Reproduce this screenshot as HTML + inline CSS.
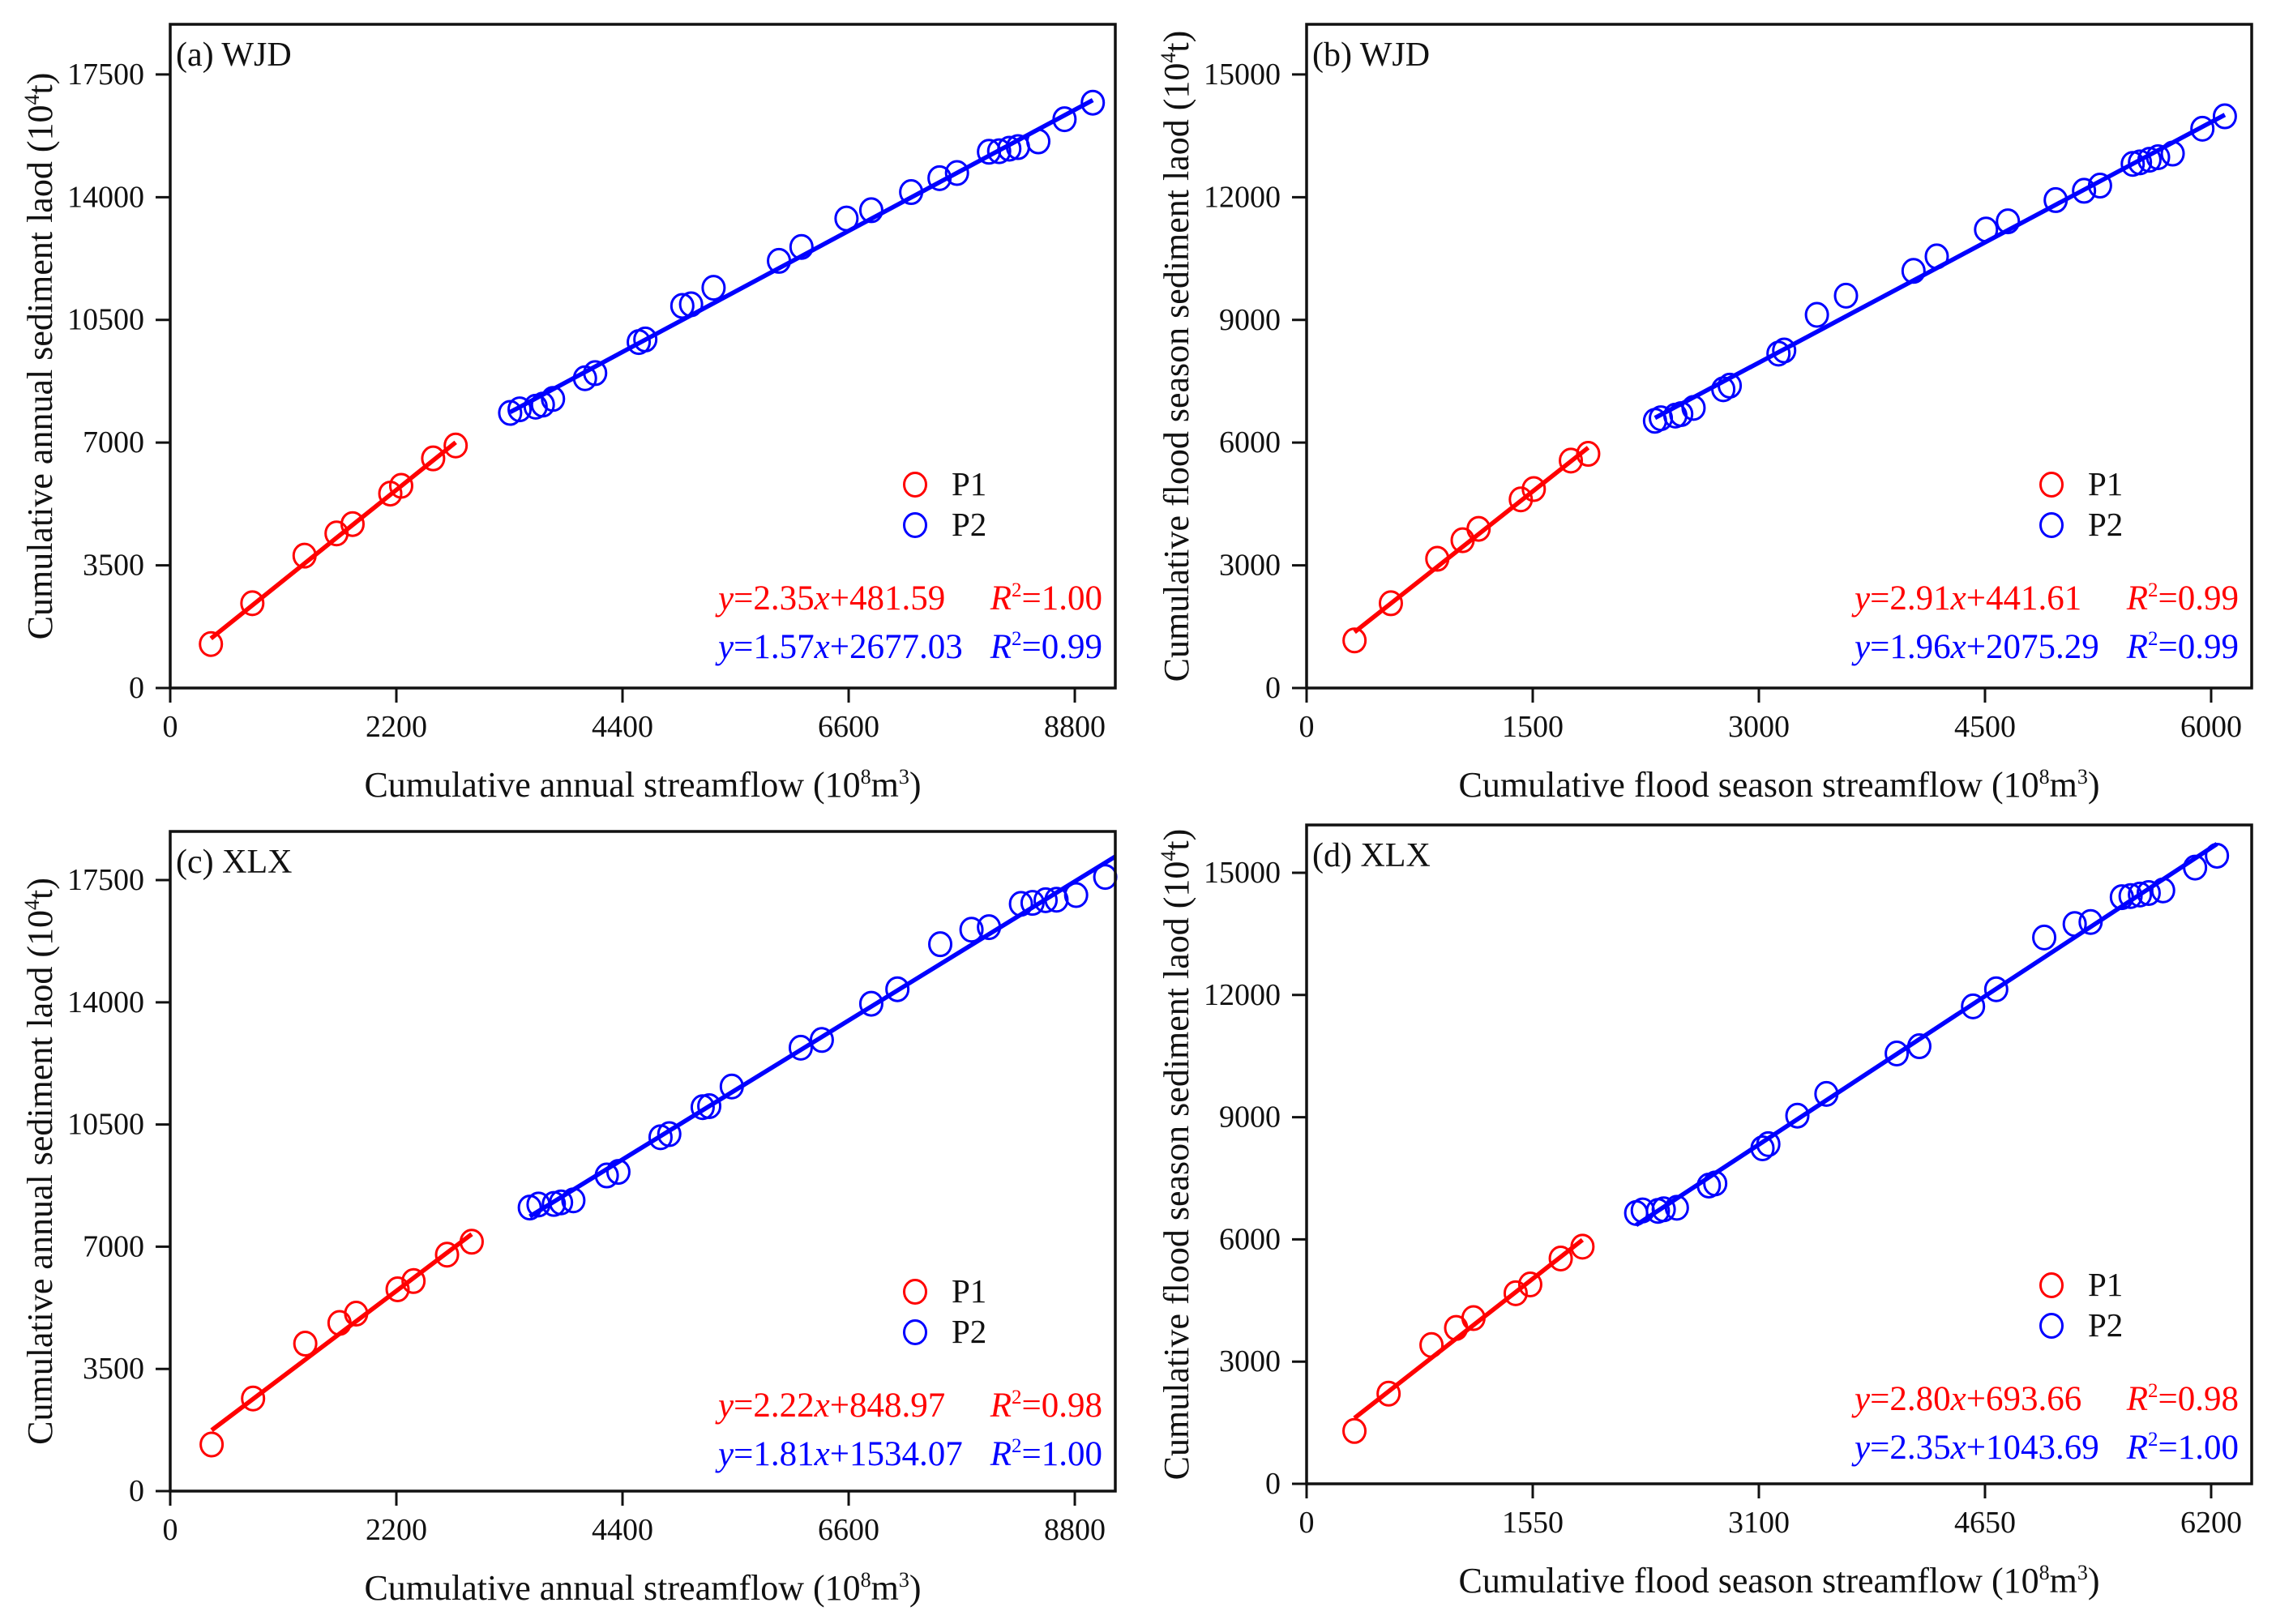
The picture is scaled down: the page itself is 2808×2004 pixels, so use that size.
<!DOCTYPE html>
<html><head><meta charset="utf-8"><style>
html,body{margin:0;padding:0;background:#fff;}
svg{display:block;font-family:"Liberation Serif",serif;}
</style></head><body>
<svg id="chart" width="2808" height="2004" viewBox="0 0 2808 2004" xmlns="http://www.w3.org/2000/svg">
<rect width="2808" height="2004" fill="#fff"/>
</svg>
<script>
// ---- Panel (a) WJD annual ----
const aP1x=[396,799,1307,1618,1774,2141,2247,2558,2777];
const aP1y=[1254,2419,3776,4410,4676,5546,5767,6549,6917];
const aP2x=[3307,3399,3555,3625,3724,4035,4134,4558,4622,4982,5067,5286,5922,6141,6579,6820,7208,7484,7654,7965,8064,8163,8247,8445,8700,8975];
const aP2y=[7847,7950,8024,8083,8245,8835,8982,9867,9941,10900,10944,11416,12183,12581,13392,13628,14145,14543,14690,15295,15310,15384,15428,15590,16224,16696];
const aFit1=[2.35,481.59];
const aFit2=[1.57,2677.03];
const aXTicks=[0,2200,4400,6600,8800];
const aYTicks=[0,3500,7000,10500,14000,17500];
// ---- Panel (b) WJD flood season ----
const bP1x=[318,559,867,1035,1141,1421,1507,1753,1868];
const bP1y=[1163,2072,3159,3614,3892,4612,4865,5560,5725];
const bP2x=[2311,2350,2446,2485,2567,2764,2807,3130,3168,3385,3578,4026,4180,4507,4652,4969,5157,5263,5480,5528,5591,5648,5745,5942,6091];
const bP2y=[6533,6596,6660,6698,6849,7304,7392,8176,8252,9124,9592,10198,10552,11209,11411,11929,12157,12283,12814,12852,12915,12978,13066,13673,13977];
const bFit1=[2.91,441.61];
const bFit2=[1.96,2075.29];
const bXTicks=[0,1500,3000,4500,6000];
const bYTicks=[0,3000,6000,9000,12000,15000];
// ---- Panel (c) XLX annual ----
const cP1x=[403,806,1314,1647,1809,2212,2367,2693,2933];
const cP1y=[1334,2652,4223,4816,5083,5779,6016,6772,7142];
const cP2x=[3498,3583,3732,3802,3922,4247,4360,4770,4855,5180,5244,5463,6134,6339,6820,7074,7491,7795,7965,8276,8389,8516,8622,8813,9096];
const cP2y=[8120,8209,8224,8268,8327,9039,9143,10135,10224,10995,11024,11588,12699,12921,13959,14374,15663,16078,16152,16819,16848,16923,16937,17071,17590];
const cFit1=[2.22,848.97];
const cFit2=[1.81,1534.07];
const cXTicks=[0,2200,4400,6600,8800];
const cYTicks=[0,3500,7000,10500,14000,17500];
// ---- Panel (d) XLX flood season ----
const dP1x=[328,562,856,1025,1144,1433,1533,1742,1891];
const dP1y=[1297,2212,3407,3826,4068,4678,4894,5530,5822];
const dP2x=[2259,2304,2408,2448,2538,2757,2801,3125,3165,3364,3563,4045,4200,4568,4727,5056,5265,5374,5588,5648,5712,5772,5871,6090,6240];
const dP2y=[6648,6712,6699,6738,6776,7322,7373,8237,8339,9038,9572,10564,10742,11720,12140,13411,13742,13792,14402,14428,14466,14504,14568,15127,15419];
const dFit1=[2.80,693.66];
const dFit2=[2.35,1043.69];
const dXTicks=[0,1550,3100,4650,6200];
const dYTicks=[0,3000,6000,9000,12000,15000];
const r2a=["1.00","0.99"], r2b=["0.99","0.99"], r2c=["0.98","1.00"], r2d=["0.98","1.00"];

const NS="http://www.w3.org/2000/svg";
const svg=document.getElementById('chart');
function mk(tag,attrs,parent){const e=document.createElementNS(NS,tag);for(const k in attrs)e.setAttribute(k,attrs[k]);(parent||svg).appendChild(e);return e;}

function panel(cfg){
  const g=mk('g',{});
  
  
  const {L,R,T,B,xmax,ymax}=cfg;
  const sx=v=>L+(R-L)*v/xmax;
  const sy=v=>B-(B-T)*v/ymax;
  const series=[[cfg.p1x,cfg.p1y,cfg.fit1,'#ff0000','p1',cfg.end1],[cfg.p2x,cfg.p2y,cfg.fit2,'#0000ff','p2',cfg.end2]];
  series.forEach(([xs,ys,fit,col,nm,endX])=>{
    const x0=Math.min(...xs), x1=endX!==undefined?endX:Math.max(...xs);
    const ln=mk('line',{x1:sx(x0),y1:sy(fit[0]*x0+fit[1]),x2:sx(x1),y2:sy(fit[0]*x1+fit[1]),stroke:col,'stroke-width':5.5},g);
    
    
    xs.forEach((x,i)=>{
      const c=mk('ellipse',{cx:sx(x),cy:sy(ys[i]),rx:13.5,ry:14.5,fill:'none',stroke:col,'stroke-width':3},g);
      
      
    });
  });
  const fr=mk('rect',{x:L,y:T,width:R-L,height:B-T,fill:'none',stroke:'#111','stroke-width':3.5},g);
  
  
  cfg.xt.forEach(v=>{
    mk('line',{x1:sx(v),y1:B,x2:sx(v),y2:B+18,stroke:'#111','stroke-width':3},g);
    const t=mk('text',{x:sx(v),y:B+60,'font-size':38,'text-anchor':'middle',fill:'#111'},g);
    t.textContent=v;
    
    
  });
  cfg.yt.forEach(v=>{
    mk('line',{x1:L-18,y1:sy(v),x2:L,y2:sy(v),stroke:'#111','stroke-width':3},g);
    const t=mk('text',{x:L-32,y:sy(v)+12,'font-size':38,'text-anchor':'end',fill:'#111'},g);
    t.textContent=v;
    
    
  });
  const pl=mk('text',{x:L+7,y:T+51,'font-size':42,fill:'#111'},g);
  pl.textContent=cfg.label;
  
  
  const xt=mk('text',{x:(L+R)/2,y:B+134,'font-size':44,'text-anchor':'middle',fill:'#111'},g);
  xt.innerHTML=cfg.xtitle+' (10<tspan dy="-16" font-size="26">8</tspan><tspan dy="16">m</tspan><tspan dy="-16" font-size="26">3</tspan><tspan dy="16">)</tspan>';
  
  
  const yt=mk('text',{x:0,y:0,'font-size':44,'text-anchor':'middle',fill:'#111',transform:`translate(${L-146},${(T+B)/2}) rotate(-90)`},g);
  yt.innerHTML=cfg.ytitle+' (10<tspan dy="-16" font-size="26">4</tspan><tspan dy="16">t)</tspan>';
  
  
  [['P1','#ff0000',T+568,T+581],['P2','#0000ff',T+618,T+631]].forEach(([n,col,cy,by])=>{
    const c=mk('ellipse',{cx:L+919,cy:cy,rx:13.5,ry:14.5,fill:'none',stroke:col,'stroke-width':3},g);
    
    
    const t=mk('text',{x:L+964,y:by,'font-size':41,fill:'#111'},g);
    t.textContent=n;
    
    
  });
  [[cfg.fit1,cfg.r2[0],'#ff0000',T+722],[cfg.fit2,cfg.r2[1],'#0000ff',T+782]].forEach(([fit,r2,col,by],i)=>{
    const e=mk('text',{x:L+676,y:by,'font-size':43,fill:col},g);
    e.innerHTML='<tspan font-style="italic">y</tspan>='+fit[0].toFixed(2)+'<tspan font-style="italic">x</tspan>+'+fit[1].toFixed(2);
    
    
    const r=mk('text',{x:L+1150,y:by,'font-size':43,fill:col,'text-anchor':'end'},g);
    r.innerHTML='<tspan font-style="italic">R</tspan><tspan dy="-16" font-size="25">2</tspan><tspan dy="16">='+r2+'</tspan>';
    
    
  });
}
panel({id:'a',L:210,R:1376,T:30,B:849,xmax:9194,ymax:18931,p1x:aP1x,p1y:aP1y,p2x:aP2x,p2y:aP2y,fit1:aFit1,fit2:aFit2,xt:aXTicks,yt:aYTicks,r2:r2a,label:'(a) WJD',xtitle:'Cumulative annual streamflow',ytitle:'Cumulative annual sediment laod'});
panel({id:'b',L:1612,R:2778,T:30,B:849,xmax:6269,ymax:16227,p1x:bP1x,p1y:bP1y,p2x:bP2x,p2y:bP2y,fit1:bFit1,fit2:bFit2,xt:bXTicks,yt:bYTicks,r2:r2b,label:'(b) WJD',xtitle:'Cumulative flood season streamflow',ytitle:'Cumulative flood season sediment laod'});
panel({id:'c',L:210,R:1376,T:1026,B:1840,xmax:9194,ymax:18893,p1x:cP1x,p1y:cP1y,p2x:cP2x,p2y:cP2y,fit1:cFit1,fit2:cFit2,end2:9194,xt:cXTicks,yt:cYTicks,r2:r2c,label:'(c) XLX',xtitle:'Cumulative annual streamflow',ytitle:'Cumulative annual sediment laod'});
panel({id:'d',L:1612,R:2778,T:1018,B:1831,xmax:6478,ymax:16174,p1x:dP1x,p1y:dP1y,p2x:dP2x,p2y:dP2y,fit1:dFit1,fit2:dFit2,xt:dXTicks,yt:dYTicks,r2:r2d,label:'(d) XLX',xtitle:'Cumulative flood season streamflow',ytitle:'Cumulative flood season sediment laod'});
</script>
</body></html>
